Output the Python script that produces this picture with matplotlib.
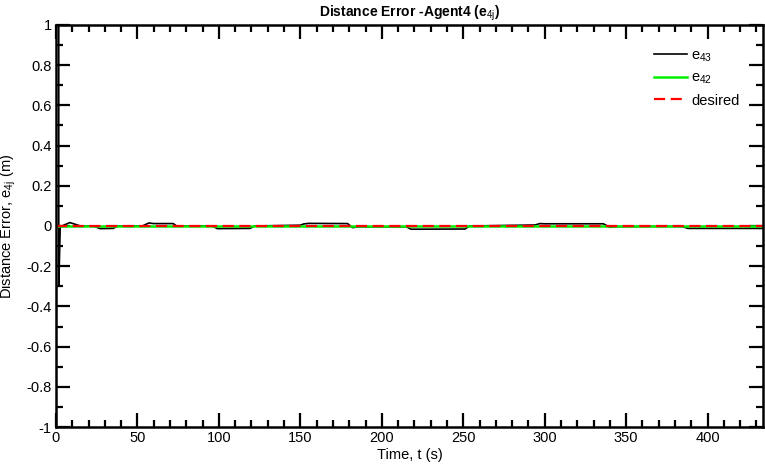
import matplotlib
matplotlib.use("Agg")
import matplotlib.pyplot as plt
from matplotlib.ticker import MultipleLocator, FuncFormatter

plt.rcParams['font.family'] = ['Liberation Sans', 'DejaVu Sans']
plt.rcParams['mathtext.fontset'] = 'custom'
plt.rcParams['mathtext.rm'] = 'Liberation Sans'
plt.rcParams['mathtext.it'] = 'Liberation Sans'
plt.rcParams['mathtext.bf'] = 'Liberation Sans:bold'

# e43 (piecewise, time in s, error in m)
t43 = [0, 1.7, 1.7, 2.6, 5, 8.5, 12, 15, 23, 27, 35, 38, 53, 57, 60, 72, 74, 96, 99,
       119, 122, 150, 152, 155, 179, 182, 186, 215, 218, 251, 254, 294, 297, 300,
       336, 340, 344, 384, 388, 434]
e43 = [1.5, 1.5, -0.3, -0.005, 0.005, 0.017, 0.008, 0.0, 0.0, -0.013, -0.012, 0.0,
       0.0, 0.015, 0.012, 0.012, 0.0, 0.0, -0.013, -0.012, 0.0, 0.004, 0.01, 0.013,
       0.012, -0.008, -0.004, -0.004, -0.016, -0.015, 0.0, 0.005, 0.012, 0.011,
       0.011, -0.006, -0.003, -0.002, -0.012, -0.012]
t42 = [0, 434]
e42 = [0, 0]
t_des = [0, 434]
desired = [0, 0]

fig = plt.figure(figsize=(7.65, 4.68), dpi=100)
ax = fig.add_axes([0.0732, 0.0876, 0.9242, 0.859])

ax.plot(t43, e43, color='black', lw=1.2, label='e$_{43}$')
ax.plot(t42, e42, color='#00ee00', lw=1.8, label='e$_{42}$')
ax.plot(t_des, desired, color='red', lw=1.6, ls=(0, (5, 2.5)), label='desired')

ax.set_xlim(0, 434)
ax.set_ylim(-1, 1)
ax.xaxis.set_major_locator(MultipleLocator(50))
ax.xaxis.set_minor_locator(MultipleLocator(10))
ax.yaxis.set_major_locator(MultipleLocator(0.2))
ax.yaxis.set_minor_locator(MultipleLocator(0.1))

def fmt(v, pos):
    if abs(v) < 1e-9:
        return '0'
    s = ('%.1f' % v).rstrip('0').rstrip('.')
    return s
ax.yaxis.set_major_formatter(FuncFormatter(fmt))
ax.xaxis.set_major_formatter(FuncFormatter(lambda v, p: '%d' % round(v)))

ax.tick_params(which='both', direction='in', top=True, right=True, labelsize=10.5,
               width=1.6, pad=3)
ax.tick_params(which='major', length=10)
ax.tick_params(which='minor', length=5)
for s in ax.spines.values():
    s.set_linewidth(1.8)

ax.set_title('Distance Error -Agent4 (e$_{4j}$)', fontsize=10, fontweight='bold', pad=6)
ax.set_xlabel('Time, t (s)', fontsize=10.5, labelpad=2)
ax.set_ylabel('Distance Error, e$_{4j}$ (m)', fontsize=10.5, labelpad=6)

leg = ax.legend(loc='upper right', frameon=False, fontsize=10.5, handlelength=2.2,
                handletextpad=0.3, labelspacing=0.5, bbox_to_anchor=(0.985, 0.975))

fig.savefig('out.png', dpi=100)
